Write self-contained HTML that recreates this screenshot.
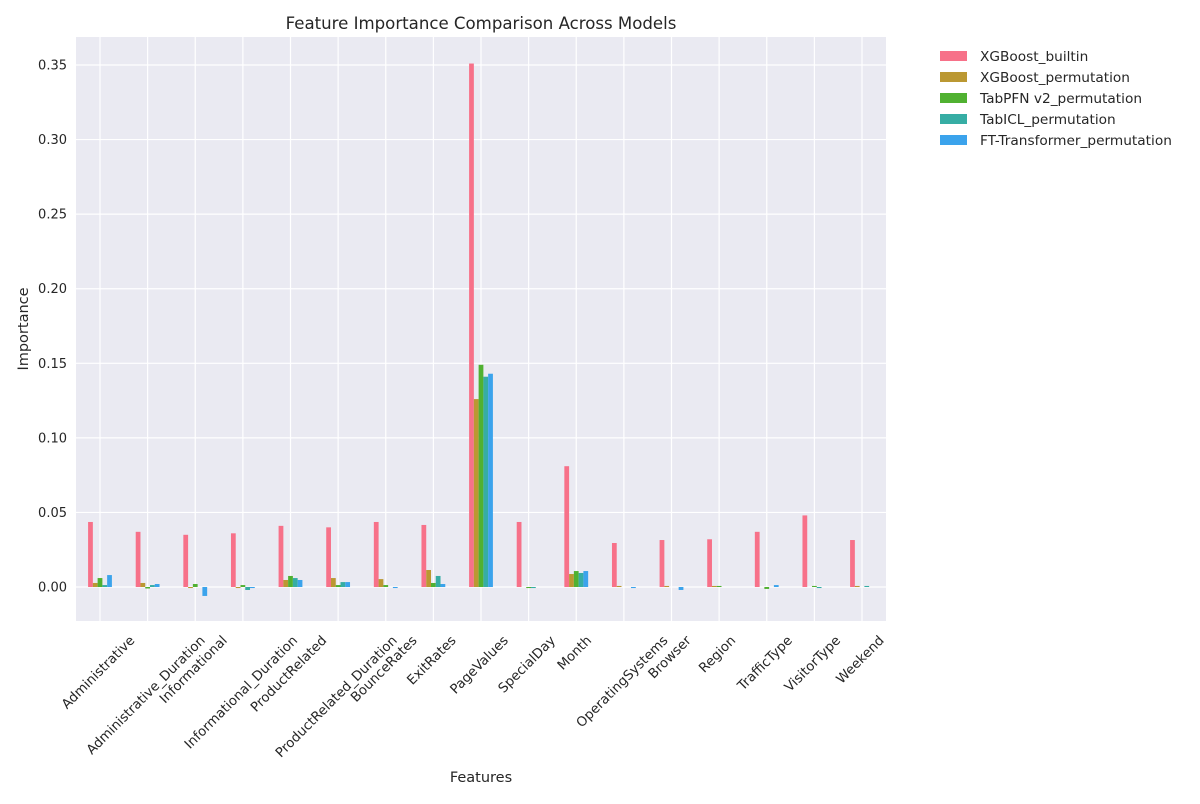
<!DOCTYPE html>
<html><head><meta charset="utf-8"><style>
body{margin:0;background:#fff;font-family:"DejaVu Sans","Liberation Sans",sans-serif;}
svg text{font-family:"DejaVu Sans","Liberation Sans",sans-serif;fill:#262626;}
</style></head><body>
<svg id="chart" width="1200" height="800">
<rect x="76" y="37" width="810" height="584" fill="#eaeaf2"/>
<g id="grid"></g><g id="bars"></g><g id="xlabels"></g><g id="ylabels"></g>
<text x="481" y="29" text-anchor="middle" font-size="16.6">Feature Importance Comparison Across Models</text>
<text x="481" y="782" text-anchor="middle" font-size="14.5">Features</text>
<text transform="translate(28,329) rotate(-90)" text-anchor="middle" font-size="14.5">Importance</text>
<g id="legend"></g>
</svg>
<script>
const categories=["Administrative","Administrative_Duration","Informational","Informational_Duration","ProductRelated","ProductRelated_Duration","BounceRates","ExitRates","PageValues","SpecialDay","Month","OperatingSystems","Browser","Region","TrafficType","VisitorType","Weekend"];
const seriesNames=["XGBoost_builtin","XGBoost_permutation","TabPFN v2_permutation","TabICL_permutation","FT-Transformer_permutation"];
const xgbBuiltin=[0.0436,0.037,0.035,0.036,0.041,0.040,0.0436,0.0416,0.351,0.0436,0.081,0.0295,0.0315,0.032,0.037,0.048,0.0315];
const xgbPerm=[0.0027,0.0027,-0.0007,-0.0007,0.0047,0.006,0.0053,0.0114,0.126,0,0.0087,0.0007,0.0007,0.0007,0,0,0.0007];
const tabpfnPerm=[0.006,-0.001,0.002,0.0013,0.0074,0.0013,0.0013,0.0027,0.149,-0.0007,0.0107,0,0,0.0007,-0.0013,0.0007,0];
const tabiclPerm=[0.0013,0.0013,0,-0.002,0.006,0.0033,0,0.0074,0.141,-0.0007,0.0094,0,0,0,0,-0.0007,0.0007];
const ftPerm=[0.008,0.002,-0.006,-0.0007,0.0047,0.0033,-0.0007,0.002,0.143,0,0.0107,-0.0007,-0.002,0,0.0013,0,0];
const yTicks=[0,0.05,0.10,0.15,0.20,0.25,0.30,0.35];
const series=[xgbBuiltin,xgbPerm,tabpfnPerm,tabiclPerm,ftPerm];
const colors=["#f77189","#bb9832","#50b131","#36ada4","#3ba3ec"];
const NS="http://www.w3.org/2000/svg";
const y0=587,pxPer=74.57/0.05;
function yS(v){return y0-v*pxPer;}
function xS(i){return 100+i*47.625;}
function mk(t,a,p){const e=document.createElementNS(NS,t);for(const k in a)e.setAttribute(k,a[k]);document.getElementById(p).appendChild(e);return e;}
yTicks.forEach(t=>{
 const g=mk("line",{x1:76,x2:886,y1:yS(t),y2:yS(t),stroke:"#fff","stroke-width":1.2},"grid");
 
 
 const l=mk("text",{x:67,y:yS(t)+4.5,"text-anchor":"end","font-size":13},"ylabels");
 l.textContent=t.toFixed(2);
 
 
});
categories.forEach((c,i)=>{
 const g=mk("line",{x1:xS(i),x2:xS(i),y1:37,y2:621,stroke:"#fff","stroke-width":1.2},"grid");
 
 
 const l=mk("text",{"text-anchor":"middle","font-size":13.3},"xlabels");
 l.textContent=c;
 
 
 const L=l.getComputedTextLength();
 const cy=631+L*0.3536+7;
 l.setAttribute("transform",`translate(${xS(i)-2},${cy}) rotate(-45) translate(0,4.5)`);
 const bw=47.625*0.5/5;
 series.forEach((s,j)=>{
  const v=s[i];const x=xS(i)-bw*2.5+j*bw;
  const r=mk("rect",{x:x,width:bw,y:Math.min(yS(v),y0),height:Math.abs(yS(v)-y0),fill:colors[j]},"bars");
  
  
 });
});
seriesNames.forEach((n,j)=>{
 const r=mk("rect",{x:940,y:51+j*21,width:27,height:10,fill:colors[j]},"legend");
 
 
 const t=mk("text",{x:980,y:61+j*21,"font-size":13.7},"legend");
 t.textContent=n;
 
 
});
</script>
</body></html>
